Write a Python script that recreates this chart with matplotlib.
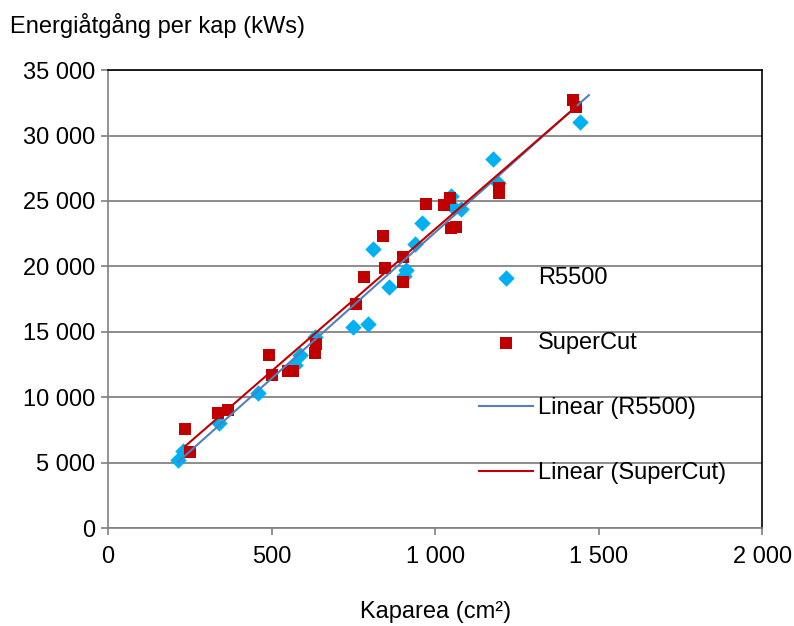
import numpy as np
import matplotlib.pyplot as plt
from matplotlib.ticker import FuncFormatter

plt.rcParams['font.family'] = ['Liberation Sans', 'DejaVu Sans']

# R5500 (blue diamonds)
r_x = [214, 229, 340, 459, 572, 587, 633, 749, 795, 810, 859, 911, 905,
       939, 960, 1049, 1055, 1080, 1177, 1193, 1443]
r_y = [5200, 5900, 8000, 10300, 12450, 13200, 14600, 15400, 15600, 21300,
       18400, 19700, 19300, 21700, 23300, 25400, 24500, 24400, 28200, 26400, 31000]

# SuperCut (red squares)
s_x = [235, 251, 336, 367, 492, 502, 550, 566, 633, 636, 758, 783, 841,
       847, 902, 902, 972, 1028, 1046, 1049, 1064, 1196, 1196, 1422, 1431]
s_y = [7600, 5800, 8800, 9000, 13200, 11700, 12000, 12000, 13400, 14100,
       17100, 19200, 22300, 19900, 18800, 20700, 24800, 24700, 25200, 22900,
       23000, 26000, 25600, 32700, 32200]

blue = '#00B0F0'
red = '#C00000'

fig = plt.figure(figsize=(7.94, 6.26), dpi=100)
ax = fig.add_axes([0.136, 0.1565, 0.824, 0.7315])

ax.scatter(r_x, r_y, marker='D', s=70, color=blue, linewidths=0, label='R5500', zorder=3)
ax.scatter(s_x, s_y, marker='s', s=75, color=red, linewidths=0, label='SuperCut', zorder=3)

# linear trendlines
for xs, ys, c, name, end in [(r_x, r_y, '#4F81BD', 'Linear (R5500)', 1470),
                             (s_x, s_y, red, 'Linear (SuperCut)', 1431)]:
    k, m = np.polyfit(xs, ys, 1)
    xx = np.array([min(xs), end])
    ax.plot(xx, k * xx + m, color=c, lw=1.5, label=name, zorder=4)

ax.set_xlim(0, 2000)
ax.set_ylim(0, 35000)
ax.set_xticks(np.arange(0, 2001, 500))
ax.set_yticks(np.arange(0, 35001, 5000))
fmt = FuncFormatter(lambda v, p: f'{int(v):,}'.replace(',', ' '))
ax.xaxis.set_major_formatter(fmt)
ax.yaxis.set_major_formatter(fmt)
ax.tick_params(labelsize=17, length=5, color='#808080', width=1.2)
ax.tick_params(axis='y', pad=4)
ax.tick_params(axis='x', pad=8)

ax.grid(axis='y', color='#8C8C8C', lw=1.4)
ax.set_axisbelow(True)
for s in ['top', 'right']:
    ax.spines[s].set_color('black')
    ax.spines[s].set_linewidth(1.2)
for s in ['left', 'bottom']:
    ax.spines[s].set_color('#808080')
    ax.spines[s].set_linewidth(1.2)

fig.text(0.013, 0.96, 'Energiåtgång per kap (kWs)', fontsize=17, va='center', ha='left')
fig.text(0.548, 0.022, 'Kaparea (cm²)', fontsize=17, va='center', ha='center')

ax.legend(loc='upper left', bbox_to_anchor=(0.549, 0.595), frameon=False, fontsize=17,
          labelspacing=1.82, handlelength=2.3, handletextpad=0.2, borderpad=0)

fig.savefig('out.png', dpi=100)
